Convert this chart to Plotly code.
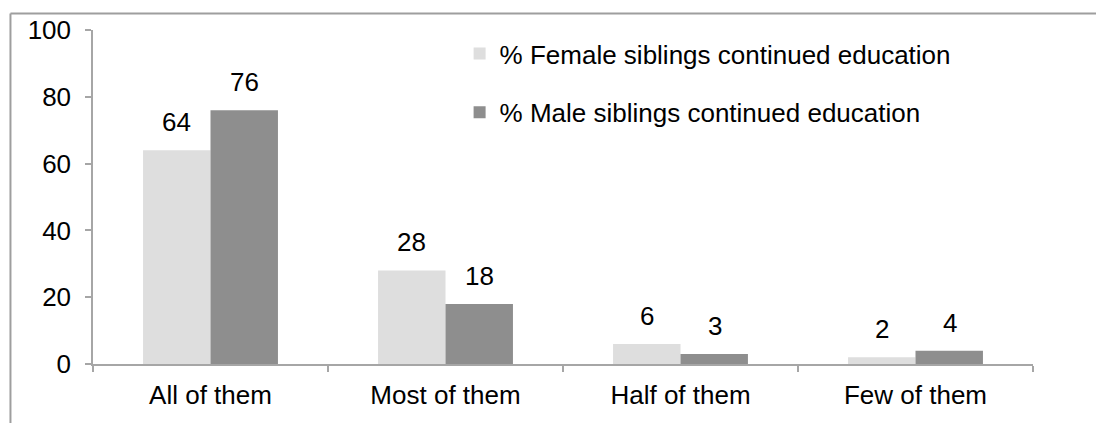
import plotly.graph_objects as go

categories = ["All of them", "Most of them", "Half of them", "Few of them"]
female = [64, 28, 6, 2]
male = [76, 18, 3, 4]
female_name = "% Female siblings continued education"
male_name = "% Male siblings continued education"
y_ticks = [0, 20, 40, 60, 80, 100]

FONT = "Liberation Sans, Arial, Helvetica, sans-serif"
FS = 26
AX = "#a6a6a6"

fig = go.Figure()
fig.add_trace(go.Bar(x=categories, y=female, name=female_name, marker_color="#dedede",
                     marker_line_width=0, legendgroup="f"))
fig.add_trace(go.Bar(x=categories, y=male, name=male_name, marker_color="#8e8e8e",
                     marker_line_width=0, legendgroup="m"))

annotations = []
for i, c in enumerate(categories):
    for vals, xs in ((female, -34), (male, 34)):
        annotations.append(dict(x=c, y=vals[i], xref="x", yref="y", text=str(vals[i]),
                                showarrow=False, xshift=xs, yshift=11, yanchor="bottom",
                                font=dict(family=FONT, size=FS, color="#000")))

fig.update_layout(
    width=1104, height=423,
    margin=dict(l=85, r=79, t=22, b=67, autoexpand=False),
    paper_bgcolor="white", plot_bgcolor="white",
    barmode="group", bargap=0.426, bargroupgap=0,
    font=dict(family=FONT, size=FS, color="#000"),
    showlegend=True,
    legend=dict(x=0.39, y=1.0, xanchor="left", yanchor="top", bgcolor="rgba(0,0,0,0)",
                font=dict(family=FONT, size=FS, color="#000"), tracegroupgap=22,
                itemsizing="constant"),
    annotations=annotations,
    shapes=[
        dict(type="line", xref="paper", yref="paper", x0=-0.0878, x1=-0.0878, y0=-0.3, y1=1.0494,
             line=dict(color="#9e9e9e", width=2)),
        dict(type="line", xref="paper", yref="paper", x0=-0.0878, x1=1.2, y0=1.0494, y1=1.0494,
             line=dict(color="#9e9e9e", width=2)),
    ],
)
fig.update_yaxes(range=[0, 100], tickvals=y_ticks, showgrid=False, zeroline=False,
                 showline=True, linecolor=AX, linewidth=1.5,
                 ticks="outside", ticklen=6, tickcolor=AX, tickwidth=1.5,
                 ticklabelstandoff=9, tickfont=dict(family=FONT, size=FS, color="#000"))
fig.update_xaxes(showgrid=False, showline=True, linecolor=AX, linewidth=1.5,
                 ticks="outside", tickson="boundaries", ticklen=6, tickcolor=AX, tickwidth=1.5,
                 ticklabelstandoff=7, tickfont=dict(family=FONT, size=FS, color="#000"))

fig.write_html("out.html")
